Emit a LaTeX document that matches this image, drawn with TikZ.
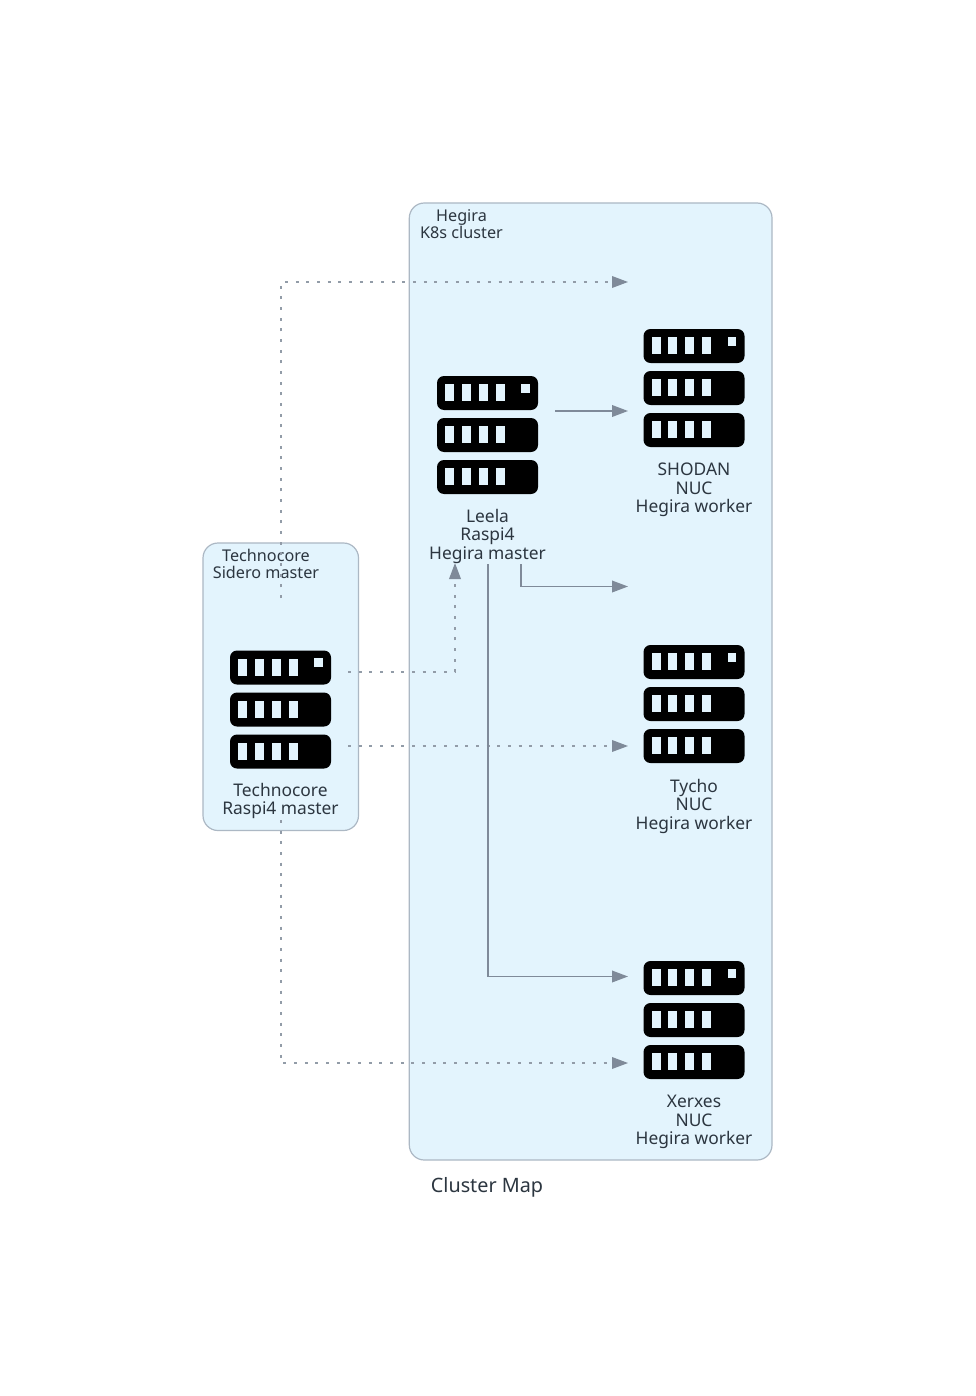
\documentclass[tikz,border=0pt]{standalone}
\usepackage{fontspec}
\setmainfont{Noto Sans}
\usetikzlibrary{arrows.meta}
\definecolor{clusterfill}{HTML}{E3F4FD}
\definecolor{clusterline}{HTML}{ACB8C4}
\definecolor{linkcol}{HTML}{7F8A99}
\definecolor{textcol}{HTML}{2C3640}
\tikzset{
  x=1pt,y=-1pt,
  clusterbox/.style={draw=clusterline,fill=clusterfill,line width=1.2pt,rounded corners=15pt},
  lbl/.style={text=textcol,align=center,inner sep=0pt,font=\fontsize{17.4}{18.5}\selectfont},
  grouplbl/.style={text=textcol,align=center,inner sep=0pt,font=\fontsize{16.2}{17.5}\selectfont},
  titlelbl/.style={text=textcol,align=center,inner sep=0pt,font=\fontsize{19.8}{24}\selectfont},
  iconbox/.style={minimum width=101pt,minimum height=118pt,inner sep=0pt},
  solidlink/.style={draw=linkcol,line width=1.4pt,-{Triangle[length=16pt,width=11.7pt]}},
  dotlink/.style={draw=linkcol!85,line width=1.2pt,dash pattern=on 3pt off 7.67pt,-{Triangle[length=16pt,width=11.7pt,color=linkcol]}},
  serverpic/.pic={
    \foreach \r in {0,42,84}{
      \fill[black,rounded corners=7pt] (0,\r) rectangle (101,\r+34);
      \foreach \s in {8.2,24.9,41.8,58.8}{
        \fill[clusterfill] (\s,\r+8.2) rectangle (\s+8.8,\r+25);
      }
    }
    \fill[clusterfill] (84.2,7.7) rectangle (92.7,16.7);
  },
}
\begin{document}
\begin{tikzpicture}
\useasboundingbox (0,0) rectangle (975,1396);
\fill[white] (0,0) rectangle (975,1396);
% clusters
\draw[clusterbox] (409.3,203) rectangle (772,1160);
\draw[clusterbox] (203,543) rectangle (358.5,830.5);
% icons
\node[iconbox] (shodan) at (694,388) {};
\node[iconbox] (tycho) at (694,704) {};
\node[iconbox] (xerxes) at (694,1020) {};
\node[iconbox] (leela) at (487.5,435) {};
\node[iconbox] (techno) at (280.5,709.5) {};
\pic at (643.5,329) {serverpic};
\pic at (643.5,645) {serverpic};
\pic at (643.5,961) {serverpic};
\pic at (437,376) {serverpic};
\pic at (230,650.5) {serverpic};
% labels
\node[grouplbl] (hegiralbl) at (461.5,224) {Hegira\\K8s cluster};
\node[grouplbl] (technogrp) at (266,564) {Technocore\\Sidero master};
\node[lbl] (shodanlbl) at (694,490) {SHODAN\\NUC\\Hegira worker};
\node[lbl] (tycholbl) at (694,806) {Tycho\\NUC\\Hegira worker};
\node[lbl] (xerxeslbl) at (694,1122) {Xerxes\\NUC\\Hegira worker};
\node[lbl] (leelalbl) at (487.5,536) {Leela\\Raspi4\\Hegira master};
\node[lbl] (technolbl) at (280.5,801) {Technocore\\Raspi4 master};
\node[titlelbl] (maptitle) at (487,1187) {Cluster Map};
% connector ends
\coordinate (tA) at (281,598);
\coordinate (tB) at (348,672);
\coordinate (tC) at (348,746);
\coordinate (tD) at (281,820);
\coordinate (lE) at (555,411);
\coordinate (lF) at (521,564);
\coordinate (lG) at (488,564);
\coordinate (inTop) at (628,282);
\coordinate (inShodan) at (628,411);
\coordinate (inTycho1) at (628,586.5);
\coordinate (inTycho2) at (628,746);
\coordinate (inXerxes1) at (628,976.5);
\coordinate (inXerxes2) at (628,1063);
\coordinate (inLeela) at (455,563);
% connectors
\draw[dotlink] (tA) |- (inTop);
\draw[dotlink] (tB) -| (inLeela);
\draw[dotlink] (tC) -- (inTycho2);
\draw[dotlink] (tD) |- (inXerxes2);
\draw[solidlink] (lE) -- (inShodan);
\draw[solidlink] (lF) |- (inTycho1);
\draw[solidlink] (lG) |- (inXerxes1);
\end{tikzpicture}
\end{document}
